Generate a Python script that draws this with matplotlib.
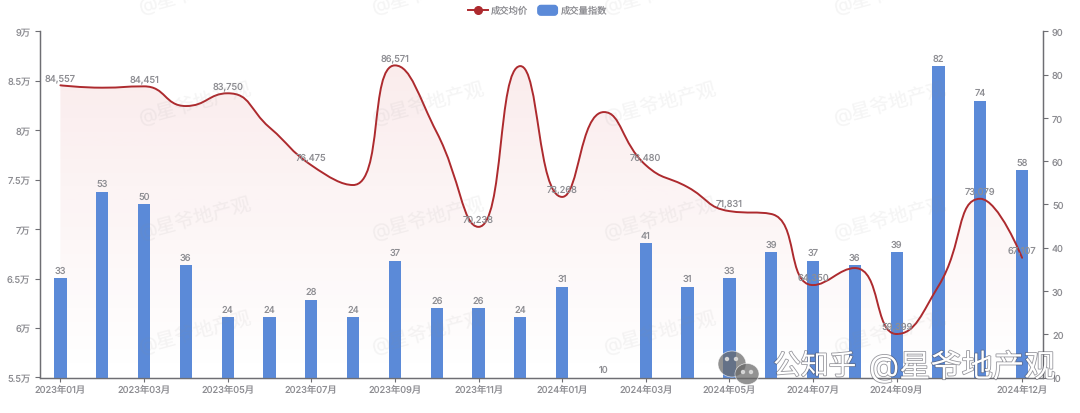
import matplotlib
matplotlib.use("Agg")
import matplotlib.pyplot as plt
import numpy as np
from matplotlib.lines import Line2D
from matplotlib.patches import Ellipse, FancyBboxPatch, Patch, PathPatch
from matplotlib.path import Path
from matplotlib.legend_handler import HandlerPatch
import matplotlib.patheffects as pe

plt.rcParams["font.family"] = ["Inter", "Noto Sans CJK SC", "DejaVu Sans"]
plt.rcParams["text.hinting"] = "no_hinting"

months = [
    "2023年01月", "2023年02月", "2023年03月", "2023年04月", "2023年05月", "2023年06月",
    "2023年07月", "2023年08月", "2023年09月", "2023年10月", "2023年11月", "2023年12月",
    "2024年01月", "2024年02月", "2024年03月", "2024年04月", "2024年05月", "2024年06月",
    "2024年07月", "2024年08月", "2024年09月", "2024年10月", "2024年11月", "2024年12月",
]
price = [
    84557, 84316, 84451, 82460, 83750, 80300, 76475, 74470, 86571, 79800, 70238, 86500,
    73268, 81850, 76480, 74260, 71831, 71540, 64350, 66070, 59399, 64250, 73079, 67107,
]
volume = [33, 53, 50, 36, 24, 24, 28, 24, 37, 26, 26, 24, 31, 10, 41, 31, 33, 39, 37, 36, 39, 82, 74, 58]
shown_months = [0, 2, 4, 6, 8, 10, 12, 14, 16, 18, 20, 23]
price_labels = [0, 2, 4, 6, 8, 10, 12, 14, 16, 18, 20, 22, 23]
price_ticks = [55000, 60000, 65000, 70000, 75000, 80000, 85000, 90000]
price_tick_labels = ["5.5万", "6万", "6.5万", "7万", "7.5万", "8万", "8.5万", "9万"]
volume_ticks = [10, 20, 30, 40, 50, 60, 70, 80, 90]
watermark_x = [195, 428, 660, 890]
watermark_y = [-8, 103, 218, 332]

RED = "#ad2a2e"
BLUE = "#5b8ad8"
GREY = "#8e8e93"
AXIS = "#6e6e73"
FS = 6.7
W, H = 1080, 414


def smooth_path(ax, xs, ys, smooth=0.5):
    # bezier through the points, tangents stay continuous and never overshoot a neighbour
    pts = ax.transData.transform(np.column_stack([xs, ys]))
    n = len(pts)
    verts = [pts[0]]
    codes = [Path.MOVETO]
    out_cp = pts[0].copy()
    for i in range(1, n):
        p = pts[i]
        prev = pts[i - 1]
        if i == n - 1:
            in_cp = p.copy()
            next_out = p.copy()
        else:
            nxt = pts[i + 1]
            v = nxt - prev
            len_prev = np.hypot(*(p - prev))
            len_next = np.hypot(*(nxt - p))
            ratio = len_next / (len_prev + len_next)
            next_out = p + v * smooth * ratio
            next_out = np.clip(next_out, np.minimum(p, nxt), np.maximum(p, nxt))
            in_cp = p - (next_out - p) * len_prev / len_next
            in_cp = np.clip(in_cp, np.minimum(p, prev), np.maximum(p, prev))
            next_out = p + (p - in_cp) * len_next / len_prev
        verts += [out_cp, in_cp, p]
        codes += [Path.CURVE4, Path.CURVE4, Path.CURVE4]
        out_cp = next_out
    verts = ax.transData.inverted().transform(np.array(verts))
    return verts, codes


def rounded_handle(legend, orig_handle, xdescent, ydescent, width, height, fontsize):
    return FancyBboxPatch((-xdescent, -ydescent - 0.5), width, height + 1,
                          boxstyle="round,pad=0,rounding_size=2.2")


fig = plt.figure(figsize=(W / 100, H / 100), dpi=100)
ax = fig.add_axes([39.5 / W, 1 - 378.5 / H, 1003.5 / W, 346 / H])
ax2 = ax.twinx()
ax.set_zorder(1)
ax2.set_zorder(2)
ax.patch.set_visible(False)
ax2.patch.set_visible(False)

x = np.arange(len(months))
ax.set_xlim(-0.5, len(months) - 0.5)
ax.set_ylim(55000, 90000)
ax2.set_ylim(10, 90)

# price area + line
verts, codes = smooth_path(ax, x, price)
area_verts = np.vstack([verts, [[x[-1], 55000], [x[0], 55000], verts[0]]])
area_codes = codes + [Path.LINETO, Path.LINETO, Path.CLOSEPOLY]
area = PathPatch(Path(area_verts, area_codes), facecolor="none", edgecolor="none")
ax.add_patch(area)
grad = np.zeros((256, 1, 4))
grad[:, 0, :3] = matplotlib.colors.to_rgb("#c8282d")
grad[:, 0, 3] = np.linspace(0.09, 0.0, 256)
img = ax.imshow(grad, extent=[x[0], x[-1], 55000, max(price)], aspect="auto", zorder=1, origin="upper")
img.set_clip_path(area)
ax.set_xlim(-0.5, len(months) - 0.5)
ax.set_ylim(55000, 90000)

# bars sit on the right axis
ax2.bar(x, volume, width=12.3 / 41.8, color=BLUE, bottom=0, zorder=2)
ax2.add_patch(PathPatch(Path(verts, codes), facecolor="none", edgecolor=RED, lw=1.4, zorder=5,
                        capstyle="round", transform=ax.transData))
for i, v in zip(x, volume):
    ax2.annotate(str(v), (i, v), xytext=(0, 2.5), textcoords="offset points", ha="center", va="bottom",
                 fontsize=FS, color=GREY, zorder=8)
for i in price_labels:
    ax2.annotate(f"{price[i]:,}", (i, (price[i] - 55000) / 35000 * 80 + 10), xytext=(0, 2.5),
                 textcoords="offset points", ha="center", va="bottom", fontsize=FS, color=GREY, zorder=8)

ax.set_xticks(shown_months)
ax.set_xticklabels([months[i] for i in shown_months], fontsize=FS, color=GREY)
ax.set_yticks(price_ticks)
ax.set_yticklabels(price_tick_labels, fontsize=FS, color=GREY)
ax2.set_yticks(volume_ticks)
ax2.set_yticklabels([str(v) for v in volume_ticks], fontsize=FS, color=GREY)
ax.tick_params(axis="x", length=3, width=0.8, color=AXIS, pad=2.5)
ax.tick_params(axis="y", length=3.5, width=0.8, color=AXIS, pad=3)
ax2.tick_params(axis="y", length=3.5, width=0.8, color=AXIS, pad=3)
for a in (ax, ax2):
    a.spines["top"].set_visible(False)
    for s in ("left", "right", "bottom"):
        a.spines[s].set_color(AXIS)
        a.spines[s].set_linewidth(0.9)

handles = [
    Line2D([], [], color=RED, lw=1.4, marker="o", ms=5.5),
    Patch(color=BLUE),
]
fig.legend(handles, ["成交均价", "成交量指数"], loc="upper center", bbox_to_anchor=(0.498, 1.003), ncol=2,
           frameon=False, fontsize=FS, labelcolor=GREY, handlelength=2.1, handleheight=1.0,
           handletextpad=0.4, columnspacing=1.0,
           handler_map={Patch: HandlerPatch(patch_func=rounded_handle)})

# faint repeated watermark over everything
for wy in watermark_y:
    for wx in watermark_x:
        fig.text(wx / W, 1 - wy / H, "@星爷地产观", fontsize=14, color="#8c8c8c", alpha=0.09, rotation=15,
                 ha="center", va="center", zorder=20)

# platform stamp bottom right
for cx, cy, rx, ry in [(732, 365, 14, 13), (747, 375, 12, 10.5)]:
    fig.add_artist(Ellipse((cx / W, 1 - cy / H), 2 * rx / W, 2 * ry / H, facecolor="#686868", alpha=0.72,
                           edgecolor="white", lw=0.5, transform=fig.transFigure, zorder=21))
for cx, cy in [(727, 360), (736, 360), (743, 373), (751, 373)]:
    fig.add_artist(Ellipse((cx / W, 1 - cy / H), 3 / W, 3 / H, color="#d5d5d5",
                           transform=fig.transFigure, zorder=22))
stamp_effect = [pe.withStroke(linewidth=1.2, foreground="#55555f", alpha=0.6)]
stamp_a = fig.text(773 / W, 1 - 368 / H, "公知乎", fontsize=20, color="white", ha="left", va="center", zorder=23)
stamp_b = fig.text(869 / W, 1 - 368 / H, "@星爷地产观", fontsize=22.5, color="white", ha="left", va="center", zorder=23)
stamp_a.set_path_effects(stamp_effect)
stamp_b.set_path_effects(stamp_effect)

fig.savefig("out.png", dpi=100)
